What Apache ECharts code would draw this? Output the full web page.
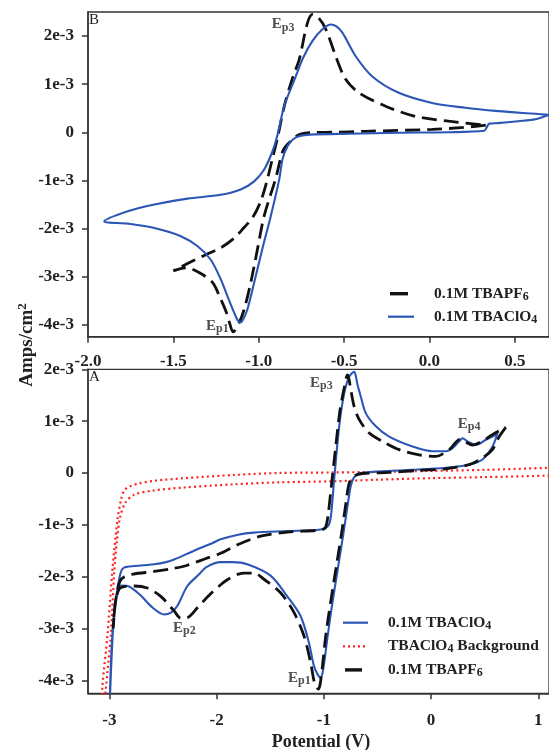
<!DOCTYPE html>
<html>
<head>
<meta charset="utf-8">
<script src="https://cdn.jsdelivr.net/npm/echarts@6/dist/echarts.min.js"></script>
<style>
  html, body { margin: 0; padding: 0; background: #fff; }
  #chart { width: 549px; height: 750px; }
</style>
</head>
<body>
<div id="chart"></div>
<script>
// Cyclic voltammograms: potential (V) vs current density, currents in units of 1e-3 A/cm2.

// Panel B (upper plot)
const bClO4 = [
  [0.70, 0.36], [0.62, 0.27], [0.52, 0.23], [0.40, 0.19], [0.35, 0.18], [0.335, 0.10], [0.32, 0.03],
  [0.11, 0.0], [-0.18, -0.01], [-0.47, -0.03], [-0.70, -0.05], [-0.76, -0.08], [-0.80, -0.15],
  [-0.83, -0.28], [-0.86, -0.55], [-0.88, -0.98], [-0.93, -1.75], [-0.98, -2.44], [-1.027, -3.13],
  [-1.067, -3.69], [-1.09, -3.88], [-1.106, -3.95], [-1.125, -3.90], [-1.144, -3.75], [-1.183, -3.41],
  [-1.222, -3.06], [-1.281, -2.65], [-1.358, -2.37], [-1.456, -2.16], [-1.611, -1.99], [-1.767, -1.90],
  [-1.905, -1.85],
  [-1.767, -1.64], [-1.611, -1.50], [-1.417, -1.38], [-1.222, -1.30], [-1.106, -1.19], [-1.027, -1.02],
  [-0.969, -0.78], [-0.92, -0.40], [-0.89, -0.05], [-0.85, 0.55], [-0.79, 1.10], [-0.74, 1.55],
  [-0.685, 1.90], [-0.627, 2.14], [-0.578, 2.24], [-0.545, 2.20], [-0.51, 2.07], [-0.432, 1.58],
  [-0.335, 1.16], [-0.18, 0.82], [0.015, 0.61], [0.209, 0.51], [0.404, 0.44], [0.55, 0.40],
  [0.64, 0.38], [0.70, 0.36]
];
const bPF6 = [
  [0.33, 0.15], [0.20, 0.10], [0.015, 0.06], [-0.374, 0.02], [-0.568, 0.0], [-0.705, -0.01],
  [-0.763, -0.05], [-0.802, -0.15], [-0.855, -0.36], [-0.90, -0.95], [-0.969, -1.75], [-1.008, -2.44],
  [-1.047, -3.13], [-1.086, -3.69], [-1.115, -3.96], [-1.15, -4.15], [-1.172, -3.95], [-1.191, -3.73],
  [-1.230, -3.41], [-1.269, -3.13], [-1.347, -2.92], [-1.424, -2.82], [-1.50, -2.88],
  [-1.417, -2.73], [-1.319, -2.56], [-1.222, -2.40], [-1.144, -2.20], [-1.086, -1.98], [-1.037, -1.78],
  [-0.99, -1.45], [-0.955, -1.05], [-0.92, -0.55], [-0.889, -0.10], [-0.85, 0.55], [-0.80, 1.15],
  [-0.763, 1.51], [-0.715, 2.27], [-0.685, 2.45], [-0.65, 2.38], [-0.607, 2.14], [-0.549, 1.58],
  [-0.491, 1.10], [-0.413, 0.82], [-0.257, 0.54], [-0.083, 0.33], [0.112, 0.23], [0.33, 0.15]
];

// Panel A (lower plot)
const aClO4 = [
  [0.62, 0.77], [0.573, 0.51], [0.479, 0.26], [0.355, 0.16], [0.138, 0.10], [-0.173, 0.06],
  [-0.484, 0.03], [-0.67, -0.01], [-0.72, -0.09], [-0.75, -0.26], [-0.78, -0.65], [-0.82, -1.20],
  [-0.87, -1.85], [-0.92, -2.50], [-0.965, -3.15], [-0.996, -3.65], [-1.015, -3.88], [-1.03, -3.95],
  [-1.06, -3.88], [-1.093, -3.72], [-1.14, -3.27], [-1.217, -2.76], [-1.341, -2.38], [-1.497, -1.98],
  [-1.714, -1.76], [-1.851, -1.72], [-1.963, -1.72], [-2.10, -1.82], [-2.161, -1.95], [-2.273, -2.18],
  [-2.366, -2.56], [-2.43, -2.70], [-2.49, -2.73], [-2.596, -2.60], [-2.72, -2.34], [-2.83, -2.18],
  [-2.895, -2.17], [-2.93, -2.30], [-2.96, -2.80], [-2.985, -3.80], [-3.0, -4.60],
  [-2.985, -3.60], [-2.965, -2.90], [-2.94, -2.45], [-2.91, -2.05], [-2.885, -1.87], [-2.86, -1.82],
  [-2.83, -1.81], [-2.583, -1.76], [-2.472, -1.72], [-2.397, -1.67], [-2.211, -1.50], [-2.037, -1.35],
  [-1.963, -1.28], [-1.80, -1.19], [-1.652, -1.15], [-1.341, -1.12], [-1.031, -1.09], [-0.96, -1.02],
  [-0.934, -0.83], [-0.903, -0.10], [-0.857, 0.90], [-0.81, 1.54], [-0.763, 1.86], [-0.717, 1.95],
  [-0.70, 1.85], [-0.686, 1.70], [-0.655, 1.47], [-0.608, 1.15], [-0.515, 0.90], [-0.391, 0.70],
  [-0.173, 0.51], [0.013, 0.42], [0.138, 0.42], [0.200, 0.48], [0.262, 0.61], [0.293, 0.67],
  [0.340, 0.61], [0.417, 0.54], [0.511, 0.64], [0.573, 0.70], [0.62, 0.77]
];
const aBackground = [
  [1.25, -0.03], [1.10, -0.05], [0.50, -0.08], [0.0, -0.10], [-0.50, -0.13], [-0.906, -0.16],
  [-1.416, -0.18], [-1.85, -0.22], [-2.30, -0.28], [-2.60, -0.34], [-2.77, -0.42], [-2.85, -0.57],
  [-2.90, -0.85], [-2.93, -1.30], [-2.955, -1.90], [-2.988, -3.14], [-3.034, -4.17], [-3.06, -4.70],
  [-3.072, -4.60], [-3.065, -4.10], [-3.019, -3.14], [-2.972, -1.86], [-2.925, -0.90], [-2.89, -0.50],
  [-2.86, -0.33], [-2.80, -0.25], [-2.72, -0.20], [-2.58, -0.15], [-2.30, -0.10], [-1.85, -0.04],
  [-1.416, 0.0], [-0.906, 0.01], [-0.50, 0.02], [0.0, 0.04], [0.50, 0.06], [1.10, 0.10], [1.25, 0.11]
];
const aPF6 = [
  [0.697, 0.88], [0.635, 0.70], [0.572, 0.45], [0.479, 0.29], [0.355, 0.16], [0.138, 0.08],
  [-0.111, 0.05], [-0.391, 0.01], [-0.64, -0.01], [-0.717, -0.06], [-0.763, -0.19], [-0.794, -0.58],
  [-0.83, -1.10], [-0.88, -1.75], [-0.93, -2.40], [-0.98, -3.10], [-1.012, -3.70], [-1.035, -4.08],
  [-1.052, -4.17], [-1.07, -4.12], [-1.093, -4.00], [-1.124, -3.65], [-1.186, -3.14], [-1.279, -2.69],
  [-1.404, -2.31], [-1.559, -2.05], [-1.65, -1.93], [-1.75, -1.93], [-1.901, -2.06], [-2.056, -2.33],
  [-2.18, -2.60], [-2.273, -2.79], [-2.335, -2.80], [-2.397, -2.66], [-2.521, -2.38], [-2.646, -2.22],
  [-2.77, -2.18], [-2.863, -2.19], [-2.91, -2.24], [-2.945, -2.50], [-2.965, -3.00],
  [-2.95, -2.60], [-2.925, -2.25], [-2.90, -2.08], [-2.86, -2.00], [-2.78, -1.95], [-2.583, -1.90],
  [-2.40, -1.84], [-2.273, -1.78], [-2.10, -1.65], [-1.963, -1.55], [-1.80, -1.38], [-1.59, -1.22],
  [-1.341, -1.14], [-1.031, -1.10], [-0.985, -1.05], [-0.96, -0.80], [-0.93, -0.25], [-0.89, 0.50],
  [-0.85, 1.20], [-0.81, 1.65], [-0.79, 1.85], [-0.779, 1.89], [-0.765, 1.80], [-0.748, 1.60],
  [-0.717, 1.28], [-0.670, 1.03], [-0.577, 0.77], [-0.453, 0.61], [-0.297, 0.45], [-0.111, 0.35],
  [0.045, 0.32], [0.169, 0.45], [0.27, 0.65], [0.32, 0.60], [0.386, 0.54], [0.48, 0.62],
  [0.572, 0.74], [0.697, 0.88]
];

// Peak annotations: [potential, current, peak name]
const bPeaks = [[-0.857, 2.24, 'p3'], [-1.242, -4.02, 'p1']];
const aPeaks = [[-1.024, 1.74, 'p3'], [0.355, 0.95, 'p4'], [-2.301, -2.99, 'p2'], [-1.229, -3.96, 'p1']];

// Tick values
const bPotentialTicks = [-2.0, -1.5, -1.0, -0.5, 0.0, 0.5];
const aPotentialTicks = [-3, -2, -1, 0, 1];
const currentTicks = [-4, -3, -2, -1, 0, 1, 2];

const AMP = 1e-3;
const SERIF = '"Liberation Serif", "Times New Roman", serif';
const BLUE = '#2c56b6';
const BLACK = '#111111';
const RED = '#ff2222';

const NAME_PF6 = '0.1M TBAPF6';
const NAME_CLO4 = '0.1M TBAClO4';
const NAME_BG = 'TBAClO4 Background';

const toAmps = arr => arr.map(([v, i]) => [v, i * AMP]);
const currentLabel = v => { const m = Math.round(v / AMP); return m === 0 ? '0' : m + 'e-3'; };

const tickFont = { fontFamily: SERIF, fontWeight: 'bold', fontSize: 17, color: '#222' };
const axisLineStyle = { color: '#333', width: 1.5 };

function xAxisFor(gridIndex, min, max, ticks, fmt, margin) {
  return {
    type: 'value', gridIndex, min, max,
    axisLine: { show: true, onZero: false, lineStyle: axisLineStyle },
    axisTick: { show: true, length: 6, lineStyle: axisLineStyle, customValues: ticks },
    axisLabel: Object.assign({ margin, customValues: ticks, formatter: fmt }, tickFont),
    splitLine: { show: false }
  };
}
function yAxisFor(gridIndex, min, max) {
  const vals = currentTicks.map(t => t * AMP);
  return {
    type: 'value', gridIndex, min, max,
    axisLine: { show: true, onZero: false, lineStyle: axisLineStyle },
    axisTick: { show: true, length: 6, lineStyle: axisLineStyle, customValues: vals },
    axisLabel: Object.assign({ margin: 14, customValues: vals, formatter: currentLabel }, tickFont),
    splitLine: { show: false }
  };
}

const blueStyle = { color: BLUE, width: 2.1 };
const blackStyle = { color: BLACK, width: 2.8, type: [15, 7] };
const redStyle = { color: RED, width: 2.2, type: [2, 3.2] };

function curve(name, data, xi, style) {
  return {
    name, type: 'line', xAxisIndex: xi, yAxisIndex: xi, data: toAmps(data),
    showSymbol: false, symbol: 'none', smooth: 0.3, lineStyle: style,
    itemStyle: { color: style.color }, silent: true, animation: false, z: 3
  };
}

// Rich text: main glyphs plus lowered subscript token
const subRich = {
  e: { fontFamily: SERIF, fontWeight: 'bold', fontSize: 15, color: '#222', lineHeight: 18 },
  t: { fontFamily: SERIF, fontWeight: 'bold', fontSize: 15.5, color: '#222', lineHeight: 18 },
  s: { fontFamily: SERIF, fontWeight: 'bold', fontSize: 12, color: '#222', lineHeight: 9, verticalAlign: 'bottom' }
};

function peaks(data, xi) {
  return {
    type: 'scatter', xAxisIndex: xi, yAxisIndex: xi, silent: true, animation: false, z: 5,
    symbolSize: 1, itemStyle: { color: 'rgba(0,0,0,0)' },
    data: data.map(([v, i, t]) => [v, i * AMP, t]),
    label: {
      show: true, position: 'inside', align: 'center', verticalAlign: 'middle',
      formatter: p => '{e|E}{s|' + p.data[2] + '}', rich: subRich
    }
  };
}

const legendText = {
  [NAME_PF6]: '{t|0.1M TBAPF}{s|6}',
  [NAME_CLO4]: '{t|0.1M TBAClO}{s|4}',
  [NAME_BG]: '{t|TBAClO}{s|4}{t| Background}'
};

// Legend keys: the outer move-to points fix the key box, the drawn part is the sample stroke
const keyDash = (w, len, off) => `path://M0,0M${w},14M${off},5.3h${len}v3.4h-${len}z`;
const keyLine = (w, len) => `path://M0,0M${w},14M0,5.9h${len}v2.2h-${len}z`;
const keyDots = (w, n) => {
  let p = `path://M0,0M${w},14`;
  for (let k = 0; k < n; k++) p += `M${k * 5},5.9h2v2.2h-2z`;
  return p;
};

const chart = echarts.init(document.getElementById('chart'), null, { renderer: 'canvas' });
chart.setOption({
  backgroundColor: '#ffffff',
  animation: false,
  grid: [
    { left: 88, top: 12, width: 463, height: 324.7, show: true, borderColor: '#333', borderWidth: 1.3, containLabel: false },
    { left: 88, top: 369.3, width: 462, height: 324, show: true, borderColor: '#333', borderWidth: 1.3, containLabel: false }
  ],
  xAxis: [
    xAxisFor(0, -2, 0.7, bPotentialTicks, v => v.toFixed(1), 16),
    xAxisFor(1, -3.2, 1.1, aPotentialTicks, v => String(v), 19)
  ],
  yAxis: [
    yAxisFor(0, -4.25 * AMP, 2.5 * AMP),
    yAxisFor(1, -4.25 * AMP, 2.0 * AMP)
  ],
  legend: [
    {
      orient: 'vertical', left: 383, top: 280.7, padding: 5, itemWidth: 41, itemHeight: 14, itemGap: 6,
      selectedMode: false, formatter: n => legendText[n], textStyle: { rich: subRich },
      data: [
        { name: NAME_PF6, icon: keyDash(41, 18, 2), itemStyle: { color: BLACK } },
        { name: NAME_CLO4, icon: keyLine(41, 26), itemStyle: { color: BLUE } }
      ]
    },
    {
      orient: 'vertical', left: 338, top: 609.7, padding: 5, itemWidth: 40, itemHeight: 14, itemGap: 6.6,
      selectedMode: false, formatter: n => legendText[n], textStyle: { rich: subRich },
      data: [
        { name: NAME_CLO4, icon: keyLine(40, 25), itemStyle: { color: BLUE } },
        { name: NAME_BG, icon: keyDots(40, 5), itemStyle: { color: RED } },
        { name: NAME_PF6, icon: keyDash(40, 17, 2), itemStyle: { color: BLACK } }
      ]
    }
  ],
  graphic: [
    { type: 'text', left: 89, top: 13, style: { text: 'B', font: '15px ' + SERIF, fill: '#222' } },
    { type: 'text', left: 89, top: 370, style: { text: 'A', font: '15px ' + SERIF, fill: '#222' } },
    {
      type: 'text', x: 321, y: 742,
      style: { text: 'Potential (V)', font: 'bold 18px ' + SERIF, fill: '#222', align: 'center', verticalAlign: 'middle' }
    },
    {
      type: 'text', x: 27, y: 345, rotation: Math.PI / 2,
      style: {
        text: '{a|Amps/cm}{p|2}', align: 'center', verticalAlign: 'middle',
        rich: {
          a: { fontFamily: SERIF, fontWeight: 'bold', fontSize: 19, fill: '#222', lineHeight: 22 },
          p: { fontFamily: SERIF, fontWeight: 'bold', fontSize: 13, fill: '#222', lineHeight: 10, verticalAlign: 'top' }
        }
      }
    }
  ],
  series: [
    curve(NAME_PF6, bPF6, 0, blackStyle),
    curve(NAME_CLO4, bClO4, 0, blueStyle),
    peaks(bPeaks, 0),
    curve(NAME_BG, aBackground, 1, redStyle),
    curve(NAME_CLO4, aClO4, 1, blueStyle),
    curve(NAME_PF6, aPF6, 1, blackStyle),
    peaks(aPeaks, 1)
  ]
});
</script>
</body>
</html>
